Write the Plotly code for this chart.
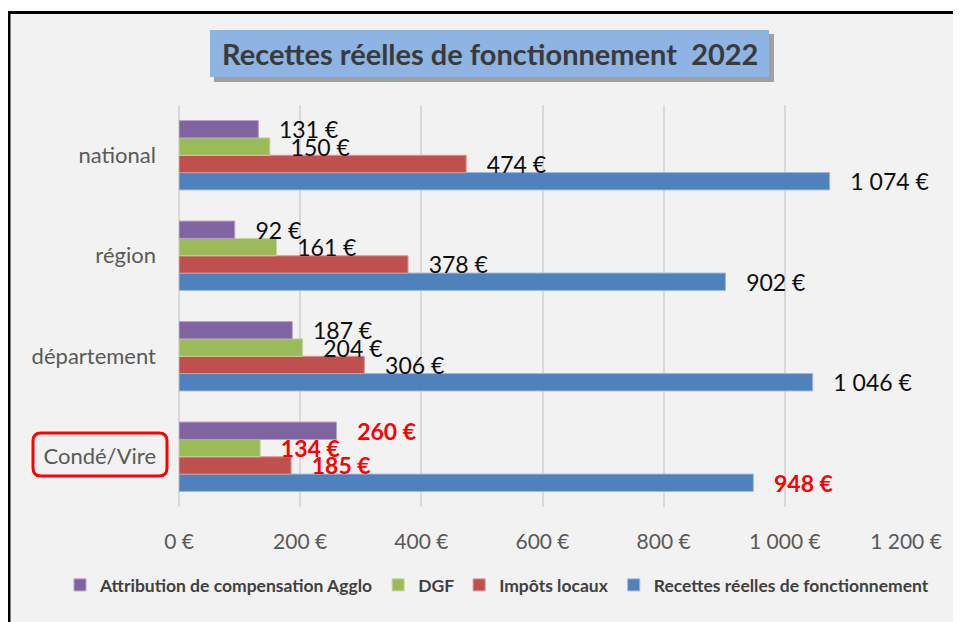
import plotly.graph_objects as go

# ---- data ----
categories = ["Condé/Vire", "département", "région", "national"]
attribution = [260, 187, 92, 131]
dgf = [134, 204, 161, 150]
impots = [185, 306, 378, 474]
recettes = [948, 1046, 902, 1074]
tick_values = [0, 200, 400, 600, 800, 1000, 1200]
tick_labels = ["0 €", "200 €", "400 €", "600 €", "800 €", "1 000 €", "1 200 €"]
series_names = ["Recettes réelles de fonctionnement", "Impôts locaux", "DGF",
                "Attribution de compensation Agglo"]
title_text = "Recettes réelles de fonctionnement  2022"

# ---- styling ----
PAGE_W, PAGE_H, OFF = 961, 622, 8   # browser body margin is 8px
W, H = PAGE_W - OFF, PAGE_H - OFF
L, R, T, B = 179, 906, 105, 507     # plot area in page pixels
FONT = "Lato"
colors = ["#4F81BD", "#C0504D", "#9BBB59", "#8064A2"]
edges = ["#9DB7DC", "#D99694", "#C3D69B", "#B3A2C7"]


def px(x):
    return (x - L) / (R - L)


def py(y):
    return (B - y) / (B - T)


def fmt(v, highlight):
    s = f"{v:,}".replace(",", "\u00a0") + "\u00a0€"
    pad = "\u00a0" * 3
    if highlight:
        return pad + "<b>" + s + "</b>"
    return pad + s


fig = go.Figure()
for name, vals, col, edge in zip(series_names, [recettes, impots, dgf, attribution], colors, edges):
    texts = [fmt(v, c == "Condé/Vire") for v, c in zip(vals, categories)]
    tcolors = ["#FF0000" if c == "Condé/Vire" else "#0d0d0d" for c in categories]
    fig.add_trace(go.Bar(
        y=categories, x=vals, name=name, orientation="h",
        marker=dict(color=col, line=dict(color=edge, width=1)),
        text=texts, textposition="outside", constraintext="none",
        cliponaxis=False,
        textfont=dict(family=FONT, size=23, color=tcolors),
        hoverinfo="x+name",
    ))

shapes = []
# chart area background + frame (top and left edges)
shapes.append(dict(type="rect", xref="paper", yref="paper", layer="below",
                   x0=px(7), x1=px(975), y0=py(12), y1=py(640),
                   fillcolor="#F2F2F2", line=dict(width=0)))
shapes.append(dict(type="line", xref="paper", yref="paper",
                   x0=px(7), x1=px(975), y0=py(12.5), y1=py(12.5),
                   line=dict(color="#000000", width=3)))
shapes.append(dict(type="line", xref="paper", yref="paper",
                   x0=px(9), x1=px(9), y0=py(11), y1=py(640),
                   line=dict(color="#000000", width=3)))
# title box shadow + box
shapes.append(dict(type="rect", xref="paper", yref="paper", layer="above",
                   x0=px(214), x1=px(774), y0=py(34), y1=py(82),
                   fillcolor="rgba(60,60,60,0.45)", line=dict(width=0)))
shapes.append(dict(type="rect", xref="paper", yref="paper", layer="above",
                   x0=px(210), x1=px(769), y0=py(30), y1=py(77),
                   fillcolor="#8DB4E2", line=dict(width=0)))

# red rounded frame around the Condé/Vire label
x0, x1, y0, y1, rr = 33, 167, 433, 476, 8
path = (f"M {px(x0 + rr)},{py(y0)} L {px(x1 - rr)},{py(y0)} "
        f"Q {px(x1)},{py(y0)} {px(x1)},{py(y0 + rr)} "
        f"L {px(x1)},{py(y1 - rr)} Q {px(x1)},{py(y1)} {px(x1 - rr)},{py(y1)} "
        f"L {px(x0 + rr)},{py(y1)} Q {px(x0)},{py(y1)} {px(x0)},{py(y1 - rr)} "
        f"L {px(x0)},{py(y0 + rr)} Q {px(x0)},{py(y0)} {px(x0 + rr)},{py(y0)} Z")
shapes.append(dict(type="path", xref="paper", yref="paper", path=path,
                   line=dict(color="#FF0000", width=3), layer="above"))

fig.update_layout(
    width=W, height=H,
    margin=dict(l=L - OFF, r=PAGE_W - R, t=T - OFF, b=PAGE_H - B, pad=0),
    paper_bgcolor="#FFFFFF", plot_bgcolor="rgba(0,0,0,0)",
    barmode="group", bargap=0.31, bargroupgap=0,
    showlegend=True,
    legend=dict(orientation="h", traceorder="reversed",
                xref="paper", yref="paper",
                x=px(60), xanchor="left", y=py(585), yanchor="middle",
                font=dict(family=FONT, size=17.5, color="#404040", weight="bold"),
                itemwidth=30, bgcolor="rgba(0,0,0,0)"),
    shapes=shapes,
    annotations=[dict(xref="paper", yref="paper", x=px(489.5), y=py(53.5),
                      text="<b>" + title_text.replace(" ", "\u00a0") + "</b>",
                      showarrow=False, xanchor="center", yanchor="middle",
                      font=dict(family=FONT, size=29, color="#3A3A3A"))],
    font=dict(family=FONT),
)
fig.update_xaxes(range=[0, 1200], tickvals=tick_values, ticktext=tick_labels,
                 showgrid=True, gridcolor="#D9D9D9", gridwidth=2,
                 zeroline=True, zerolinecolor="#D9D9D9", zerolinewidth=2,
                 showline=False, ticks="", ticklabelstandoff=20,
                 tickfont=dict(family=FONT, size=21, color="#595959"))
fig.update_yaxes(showgrid=False, showline=False, ticks="", ticklabelstandoff=22,
                 tickfont=dict(family=FONT, size=22, color="#595959"))

fig.write_html("out.html")
